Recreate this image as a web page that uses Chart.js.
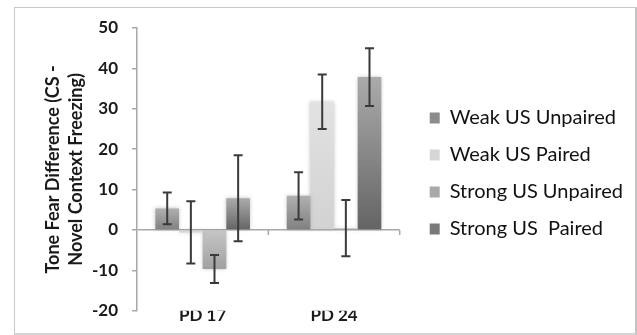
<!DOCTYPE html>
<html>
<head>
<meta charset="utf-8">
<script src="https://cdn.jsdelivr.net/npm/chart.js@4"></script>
<style>
    html, body { margin: 0; padding: 0; background: #fff; }
    #wrap { position: relative; width: 637px; height: 335px; }
    #frame {
        position: absolute; left: 14px; top: 7px; width: 620px; height: 325px;
        border: 1px solid #c8c8c8; border-right: 2px solid #c4c4c4; border-bottom: 2px solid #d4d4d4;
        pointer-events: none;
    }
    canvas { position: absolute; left: 0; top: 0; }
</style>
</head>
<body>
<div id="wrap">
    <canvas id="chart" width="637" height="335"></canvas>
    <div id="frame"></div>
</div>
<script>
const categories = ['PD 17', 'PD 24'];
const seriesNames = ['Weak US Unpaired', 'Weak US Paired', 'Strong US Unpaired', 'Strong US  Paired'];

// mean values per group
const weakUnpaired = [5.35, 8.45];
const weakPaired = [-0.6, 31.75];
const strongUnpaired = [-9.65, 0.45];
const strongPaired = [7.85, 37.85];

// error bar half-lengths
const weakUnpairedErr = [3.95, 5.85];
const weakPairedErr = [7.7, 6.75];
const strongUnpairedErr = [3.45, 6.95];
const strongPairedErr = [10.65, 7.15];

const yTicks = [-20, -10, 0, 10, 20, 30, 40, 50];

// bar shades: [top, bottom, legend swatch]
const shades = [
    ['#b0b0b0', '#808080', '#8c8c8c'],
    ['#e2e2e2', '#d2d2d2', '#d6d6d6'],
    ['#c6c6c6', '#a0a0a0', '#a9a9a9'],
    ['#ababab', '#646464', '#7a7a7a']
];

function barGradient(idx) {
    return function (ctx) {
        const chart = ctx.chart;
        const sh = shades[idx];
        if (!chart.chartArea || ctx.type !== 'data') return sh[2];
        const y = chart.scales.y;
        const v = ctx.raw;
        const top = y.getPixelForValue(Math.max(v, 0));
        const bot = y.getPixelForValue(Math.min(v, 0));
        const g = chart.ctx.createLinearGradient(0, top, 0, bot + 0.01);
        g.addColorStop(0, sh[0]);
        g.addColorStop(1, sh[1]);
        return g;
    };
}

const values = [weakUnpaired, weakPaired, strongUnpaired, strongPaired];
const errors = [weakUnpairedErr, weakPairedErr, strongUnpairedErr, strongPairedErr];

// soft halo round the bars, like the original export
const barShadow = {
    id: 'barShadow',
    beforeDatasetsDraw(chart) {
        const c = chart.ctx;
        c.save();
        c.shadowColor = 'rgba(0,0,0,0.22)';
        c.shadowBlur = 4;
    },
    afterDatasetsDraw(chart) {
        chart.ctx.restore();
    }
};

const errorBars = {
    id: 'errorBars',
    afterDatasetsDraw(chart) {
        const c = chart.ctx;
        const y = chart.scales.y;
        const x = chart.scales.x;
        c.save();
        c.strokeStyle = '#3a3a3a';
        c.lineWidth = 2;
        chart.data.datasets.forEach((ds, di) => {
            const meta = chart.getDatasetMeta(di);
            meta.data.forEach((bar, i) => {
                const v = ds.data[i], e = errors[di][i];
                const y1 = y.getPixelForValue(v + e);
                const y2 = y.getPixelForValue(v - e);
                const cap = 4.5;
                c.beginPath();
                c.moveTo(bar.x, y1); c.lineTo(bar.x, y2);
                c.moveTo(bar.x - cap, y1); c.lineTo(bar.x + cap, y1);
                c.moveTo(bar.x - cap, y2); c.lineTo(bar.x + cap, y2);
                c.stroke();
            });
        });
        // small category tick marks under the zero line
        const y0 = y.getPixelForValue(0);
        const step = x.width / categories.length;
        c.strokeStyle = '#a8a8a8';
        c.lineWidth = 1.5;
        for (let k = 1; k <= categories.length; k++) {
            const px = x.left + step * k;
            c.beginPath(); c.moveTo(px, y0); c.lineTo(px, y0 + 5); c.stroke();
        }
        c.restore();
    }
};

new Chart(document.getElementById('chart'), {
    type: 'bar',
    data: {
        labels: categories,
        datasets: seriesNames.map((name, i) => ({
            label: name,
            data: values[i],
            backgroundColor: barGradient(i),
            borderWidth: 0,
            barPercentage: 1,
            categoryPercentage: 0.72
        }))
    },
    options: {
        responsive: false,
        animation: false,
        devicePixelRatio: 1,
        layout: { padding: { left: 40, top: 28, right: 4, bottom: 8 } },
        plugins: {
            tooltip: { enabled: false },
            legend: {
                position: 'right',
                align: 'start',
                maxWidth: 260,
                // empty title only used to push the items down
                title: { display: true, text: '', font: { size: 12, lineHeight: 1 }, padding: { top: 51, bottom: 0 } },
                labels: {
                    font: { family: 'Lato', size: 20 },
                    color: '#111',
                    boxWidth: 10, boxHeight: 11, padding: 17,
                    generateLabels(chart) {
                        return seriesNames.map((n, i) => ({
                            text: n, fillStyle: shades[i][2], strokeStyle: shades[i][2],
                            lineWidth: 0, datasetIndex: i, hidden: false, fontColor: '#111'
                        }));
                    }
                }
            }
        },
        scales: {
            x: {
                grid: { display: false, drawTicks: false },
                border: { display: false },
                ticks: { font: { family: 'Lato', size: 17, weight: 'bold' }, color: '#1a1a1a', padding: -5 },
                afterFit(s) { s.height = 13.7; }
            },
            y: {
                min: -20, max: 50,
                afterBuildTicks(s) { s.ticks = yTicks.map(v => ({ value: v })); },
                grid: {
                    color: ctx => ctx.tick && ctx.tick.value === 0 ? '#a8a8a8' : 'rgba(0,0,0,0)',
                    tickColor: '#a8a8a8', tickLength: 5, lineWidth: 1.5
                },
                border: { color: '#a8a8a8', width: 1.5 },
                ticks: { font: { family: 'Lato', size: 17, weight: 'bold' }, color: '#1a1a1a', padding: 14 },
                title: {
                    display: true,
                    text: ['Tone Fear Difference (CS -', 'Novel Context Freezing)'],
                    font: { family: 'Lato', size: 18, weight: 'bold', lineHeight: 1.28 },
                    color: '#1a1a1a',
                    padding: { top: 2, bottom: 3 }
                },
                afterFit(s) { s.width = 97; }
            },
            gap: {
                type: 'linear', position: 'right', display: true,
                grid: { display: false }, border: { display: false }, ticks: { display: false },
                afterFit(s) { s.width = 13; }
            }
        }
    },
    plugins: [barShadow, errorBars]
});
</script>
</body>
</html>
